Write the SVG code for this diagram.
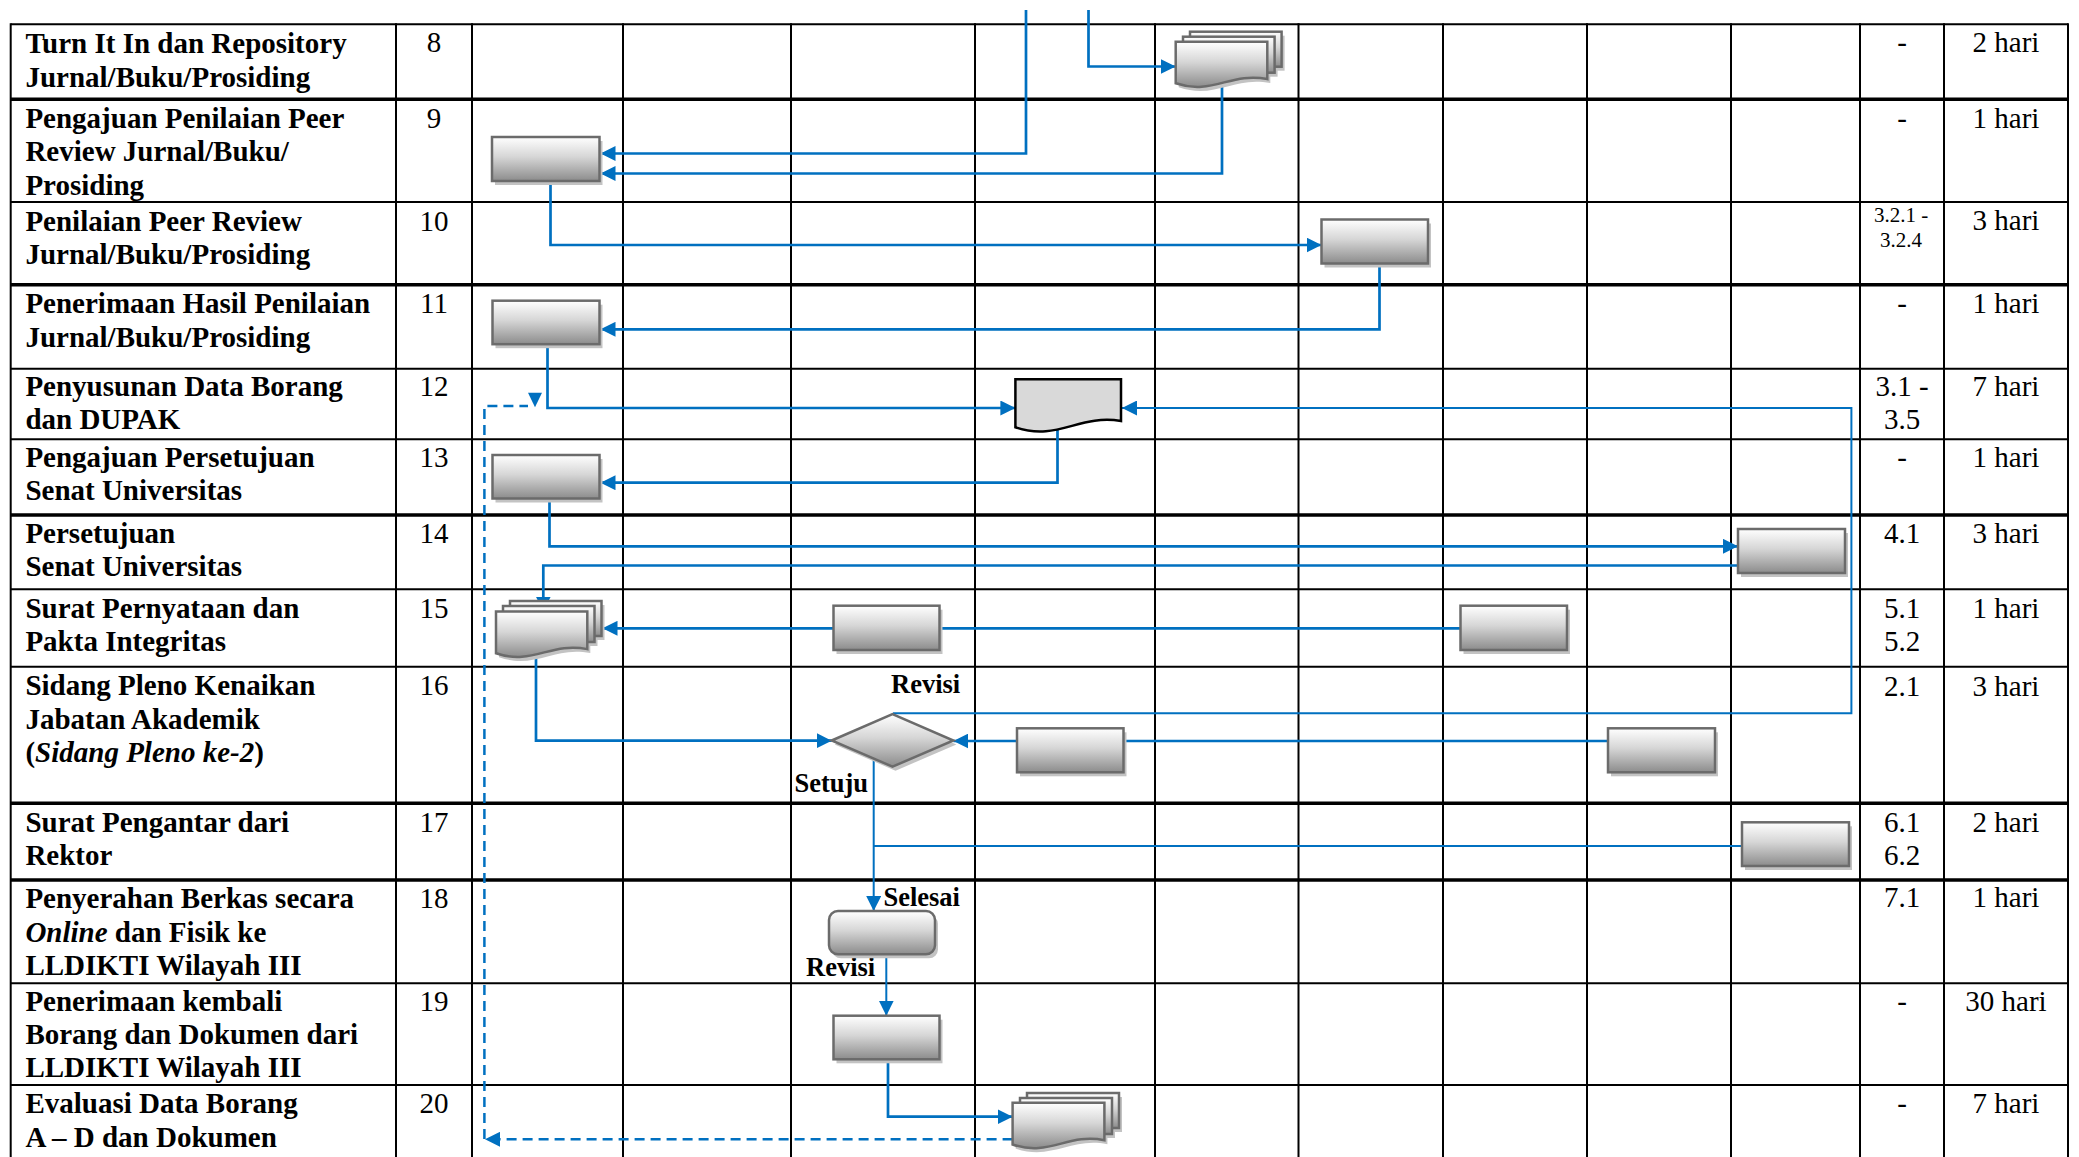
<svg xmlns="http://www.w3.org/2000/svg" width="2079" height="1157" viewBox="0 0 2079 1157">
<style>
.bg{fill:#ffffff}
.tl{stroke:#000;stroke-width:2;fill:none}
.tk{stroke:#000;stroke-width:3.5;fill:none}
.lb{font-family:"Liberation Serif","Times New Roman",serif;font-weight:bold;font-size:29px;fill:#000}
.nm{font-family:"Liberation Serif","Times New Roman",serif;font-size:29px;fill:#000;text-anchor:middle}
.sm{font-family:"Liberation Serif","Times New Roman",serif;font-size:21px;fill:#000;text-anchor:middle}
.cl{font-family:"Liberation Serif","Times New Roman",serif;font-weight:bold;font-size:26.5px;fill:#000}
.c{stroke:#0070c0;stroke-width:2.7;fill:none}
.ct{stroke:#0070c0;stroke-width:2;fill:none}
.cd{stroke:#0070c0;stroke-width:2.5;fill:none;stroke-dasharray:10 6}
.ar{marker-end:url(#arr)}
.nd{fill:url(#g);stroke:#6b6b6b;stroke-width:2.5}
.sh{fill:#c3c3c3}
.dc{fill:#d9d9d9;stroke:#000;stroke-width:2.5}
</style>
<defs>
<linearGradient id="g" x1="0" y1="0" x2="0" y2="1">
<stop offset="0" stop-color="#ffffff"/>
<stop offset="0.45" stop-color="#d6d6d6"/>
<stop offset="1" stop-color="#8c8c8c"/>
</linearGradient>
<marker id="arr" markerUnits="userSpaceOnUse" markerWidth="15" markerHeight="15" refX="15" refY="7.5" orient="auto">
<path d="M0,0 L15,7.5 L0,15 Z" fill="#0070c0"/>
</marker>
</defs>
<rect class="bg" x="0" y="0" width="2079" height="1157"/>

<g id="table">
<line class="tl" x1="10.7" y1="24.3" x2="2068" y2="24.3"/>
<line class="tk" x1="10.7" y1="99.3" x2="2068" y2="99.3"/>
<line class="tl" x1="10.7" y1="202" x2="2068" y2="202"/>
<line class="tk" x1="10.7" y1="284.7" x2="2068" y2="284.7"/>
<line class="tl" x1="10.7" y1="368.7" x2="2068" y2="368.7"/>
<line class="tl" x1="10.7" y1="439.3" x2="2068" y2="439.3"/>
<line class="tk" x1="10.7" y1="515" x2="2068" y2="515"/>
<line class="tl" x1="10.7" y1="589.3" x2="2068" y2="589.3"/>
<line class="tl" x1="10.7" y1="666.7" x2="2068" y2="666.7"/>
<line class="tk" x1="10.7" y1="803.3" x2="2068" y2="803.3"/>
<line class="tk" x1="10.7" y1="880" x2="2068" y2="880"/>
<line class="tl" x1="10.7" y1="983.3" x2="2068" y2="983.3"/>
<line class="tl" x1="10.7" y1="1085" x2="2068" y2="1085"/>
<line class="tl" x1="10.7" y1="23.3" x2="10.7" y2="1157"/>
<line class="tl" x1="396" y1="23.3" x2="396" y2="1157"/>
<line class="tl" x1="472" y1="23.3" x2="472" y2="1157"/>
<line class="tl" x1="623" y1="23.3" x2="623" y2="1157"/>
<line class="tl" x1="791" y1="23.3" x2="791" y2="1157"/>
<line class="tl" x1="975" y1="23.3" x2="975" y2="1157"/>
<line class="tl" x1="1155" y1="23.3" x2="1155" y2="1157"/>
<line class="tl" x1="1298.5" y1="23.3" x2="1298.5" y2="1157"/>
<line class="tl" x1="1443" y1="23.3" x2="1443" y2="1157"/>
<line class="tl" x1="1587" y1="23.3" x2="1587" y2="1157"/>
<line class="tl" x1="1731" y1="23.3" x2="1731" y2="1157"/>
<line class="tl" x1="1860" y1="23.3" x2="1860" y2="1157"/>
<line class="tl" x1="1944" y1="23.3" x2="1944" y2="1157"/>
<line class="tl" x1="2068" y1="23.3" x2="2068" y2="1157"/>
</g>

<g id="row-labels">
<text class="lb" x="25.4" y="53.3">Turn It In dan Repository</text>
<text class="lb" x="25.4" y="86.5">Jurnal/Buku/Prosiding</text>
<text class="lb" x="25.4" y="128">Pengajuan Penilaian Peer</text>
<text class="lb" x="25.4" y="161.3">Review Jurnal/Buku/</text>
<text class="lb" x="25.4" y="194.5">Prosiding</text>
<text class="lb" x="25.4" y="230.5">Penilaian Peer Review</text>
<text class="lb" x="25.4" y="263.8">Jurnal/Buku/Prosiding</text>
<text class="lb" x="25.4" y="313.3">Penerimaan Hasil Penilaian</text>
<text class="lb" x="25.4" y="346.6">Jurnal/Buku/Prosiding</text>
<text class="lb" x="25.4" y="396">Penyusunan Data Borang</text>
<text class="lb" x="25.4" y="429.3">dan DUPAK</text>
<text class="lb" x="25.4" y="467">Pengajuan Persetujuan</text>
<text class="lb" x="25.4" y="500.3">Senat Universitas</text>
<text class="lb" x="25.4" y="542.5">Persetujuan</text>
<text class="lb" x="25.4" y="575.8">Senat Universitas</text>
<text class="lb" x="25.4" y="617.5">Surat Pernyataan dan</text>
<text class="lb" x="25.4" y="650.8">Pakta Integritas</text>
<text class="lb" x="25.4" y="695.3">Sidang Pleno Kenaikan</text>
<text class="lb" x="25.4" y="728.6">Jabatan Akademik</text>
<text class="lb" x="25.4" y="762">(<tspan font-style="italic">Sidang Pleno ke-2</tspan>)</text>
<text class="lb" x="25.4" y="831.7">Surat Pengantar dari</text>
<text class="lb" x="25.4" y="865">Rektor</text>
<text class="lb" x="25.4" y="908.3">Penyerahan Berkas secara</text>
<text class="lb" x="25.4" y="941.6"><tspan font-style="italic">Online</tspan> dan Fisik ke</text>
<text class="lb" x="25.4" y="975">LLDIKTI Wilayah III</text>
<text class="lb" x="25.4" y="1010.7">Penerimaan kembali</text>
<text class="lb" x="25.4" y="1044">Borang dan Dokumen dari</text>
<text class="lb" x="25.4" y="1077.3">LLDIKTI Wilayah III</text>
<text class="lb" x="25.4" y="1113.3">Evaluasi Data Borang</text>
<text class="lb" x="25.4" y="1146.6">A – D dan Dokumen</text>
</g>

<g id="numbers">
<text class="nm" x="434" y="52">8</text>
<text class="nm" x="434" y="128">9</text>
<text class="nm" x="434" y="230.5">10</text>
<text class="nm" x="434" y="313.3">11</text>
<text class="nm" x="434" y="396">12</text>
<text class="nm" x="434" y="467">13</text>
<text class="nm" x="434" y="542.5">14</text>
<text class="nm" x="434" y="617.5">15</text>
<text class="nm" x="434" y="695.3">16</text>
<text class="nm" x="434" y="831.7">17</text>
<text class="nm" x="434" y="908.3">18</text>
<text class="nm" x="434" y="1010.7">19</text>
<text class="nm" x="434" y="1113.3">20</text>
</g>

<g id="refs">
<text class="nm" x="1902" y="52">-</text>
<text class="nm" x="1902" y="128">-</text>
<text class="sm" x="1901" y="221.7">3.2.1 -</text>
<text class="sm" x="1901" y="246.7">3.2.4</text>
<text class="nm" x="1902" y="313.3">-</text>
<text class="nm" x="1902" y="396">3.1 -</text>
<text class="nm" x="1902" y="428.5">3.5</text>
<text class="nm" x="1902" y="467">-</text>
<text class="nm" x="1902" y="542.5">4.1</text>
<text class="nm" x="1902" y="618">5.1</text>
<text class="nm" x="1902" y="650.7">5.2</text>
<text class="nm" x="1902" y="695.5">2.1</text>
<text class="nm" x="1902" y="831.7">6.1</text>
<text class="nm" x="1902" y="865">6.2</text>
<text class="nm" x="1902" y="906.7">7.1</text>
<text class="nm" x="1902" y="1010.7">-</text>
<text class="nm" x="1902" y="1113.3">-</text>
</g>

<g id="durations">
<text class="nm" x="2006" y="52">2 hari</text>
<text class="nm" x="2006" y="128">1 hari</text>
<text class="nm" x="2006" y="230">3 hari</text>
<text class="nm" x="2006" y="313.3">1 hari</text>
<text class="nm" x="2006" y="396">7 hari</text>
<text class="nm" x="2006" y="467">1 hari</text>
<text class="nm" x="2006" y="542.5">3 hari</text>
<text class="nm" x="2006" y="618">1 hari</text>
<text class="nm" x="2006" y="695.5">3 hari</text>
<text class="nm" x="2006" y="831.7">2 hari</text>
<text class="nm" x="2006" y="906.7">1 hari</text>
<text class="nm" x="2006" y="1010.7">30 hari</text>
<text class="nm" x="2006" y="1113.3">7 hari</text>
</g>

<g id="connectors">
<path class="c ar" d="M1026,10 V153.5 H600.5"/>
<path class="c ar" d="M1088.5,10 V66.5 H1175.7"/>
<path class="c ar" d="M1222,84 V173.5 H600.5"/>
<path class="c ar" d="M550.5,181 V245 H1321.5"/>
<path class="c ar" d="M1379.5,263.5 V329.3 H600.5"/>
<path class="c ar" d="M547.5,344 V408 H1015.4"/>
<path class="ct ar" d="M893,713.3 H1851.4 V408 H1122"/>
<path class="c ar" d="M1057.5,428 V482.7 H600.5"/>
<path class="c ar" d="M549.5,498.5 V546.3 H1738"/>
<path class="c ar" d="M1738,565.5 H543.3 V611.5"/>
<path class="c" d="M1460.5,628.3 H939.5"/>
<path class="c ar" d="M833.5,628.3 H602.5"/>
<path class="c ar" d="M536,658 V740.7 H831.7"/>
<path class="c" d="M1608,741 H1123.5"/>
<path class="c ar" d="M1017,741 H953.4"/>
<path class="ct ar" d="M873.7,758 V911"/>
<path class="ct" d="M1742,846 H873.7"/>
<path class="ct ar" d="M886.3,954 V1015.7"/>
<path class="c ar" d="M888,1059.3 V1116.7 H1012.6"/>
<path class="cd ar" d="M1012.6,1139.3 H485"/>
<path class="cd" d="M484.4,1139 V406 H528"/>
<polygon points="528,392.7 542,392.7 535,407.3" fill="#0070c0"/>
</g>

<g id="labels">
<text class="cl" x="891" y="692.7">Revisi</text>
<text class="cl" x="794.4" y="791.7">Setuju</text>
<text class="cl" x="883.4" y="906">Selesai</text>
<text class="cl" x="806" y="976">Revisi</text>
</g>

<g id="n8-doc-stack">
<rect class="sh" x="1193" y="35.7" width="91.6" height="35"/>
<rect class="sh" x="1186" y="40.7" width="91.6" height="36"/>
<path class="sh" transform="translate(3,4)" d="M1175.7,41.7 H1267.3 V79.1 C1230.7,71.7 1212.3,95.8 1175.7,83.3 Z"/>
<rect class="nd" x="1190" y="31.7" width="91.6" height="35"/>
<rect class="nd" x="1183" y="36.7" width="91.6" height="36"/>
<path class="nd" d="M1175.7,41.7 H1267.3 V79.1 C1230.7,71.7 1212.3,95.8 1175.7,83.3 Z"/>
</g>

<g id="n9-rect">
<rect class="sh" x="495" y="141" width="107.5" height="44"/>
<rect class="nd" x="492" y="137" width="107.5" height="44"/>
</g>

<g id="n10-rect">
<rect class="sh" x="1324.5" y="223.5" width="106.5" height="44"/>
<rect class="nd" x="1321.5" y="219.5" width="106.5" height="44"/>
</g>

<g id="n11-rect">
<rect class="sh" x="495.5" y="304.7" width="107" height="43.5"/>
<rect class="nd" x="492.5" y="300.7" width="107" height="43.5"/>
</g>

<g id="n12-document">
<path class="dc" d="M1015.4,379.3 H1121 V421 C1078.6,413.9 1057.6,441.7 1015.4,427.3 Z"/>
</g>

<g id="n13-rect">
<rect class="sh" x="495.5" y="459" width="107" height="43.5"/>
<rect class="nd" x="492.5" y="455" width="107" height="43.5"/>
</g>

<g id="n14-rect">
<rect class="sh" x="1741" y="533" width="107" height="44"/>
<rect class="nd" x="1738" y="529" width="107" height="44"/>
</g>

<g id="n15-doc-stack">
<rect class="sh" x="513" y="605" width="91.5" height="35"/>
<rect class="sh" x="506" y="610" width="91.5" height="36"/>
<path class="sh" transform="translate(3,4)" d="M496,611.5 H587.3 V649.1 C550.8,641.6 532.5,665.8 496,653.3 Z"/>
<rect class="nd" x="510" y="601" width="91.5" height="35"/>
<rect class="nd" x="503" y="606" width="91.5" height="36"/>
<path class="nd" d="M496,611.5 H587.3 V649.1 C550.8,641.6 532.5,665.8 496,653.3 Z"/>
</g>

<g id="n15a-rect">
<rect class="sh" x="836.5" y="609.7" width="106" height="44.3"/>
<rect class="nd" x="833.5" y="605.7" width="106" height="44.3"/>
</g>

<g id="n15b-rect">
<rect class="sh" x="1463.5" y="609.7" width="106.5" height="44.3"/>
<rect class="nd" x="1460.5" y="605.7" width="106.5" height="44.3"/>
</g>

<g id="n16-decision">
<polygon class="sh" points="834.7,744.5 895.5,718 956.4,744.5 895.5,770.7"/>
<polygon class="nd" points="831.7,740.5 892.5,714 953.4,740.5 892.5,766.7"/>
</g>

<g id="n16a-rect">
<rect class="sh" x="1020" y="732.3" width="106.5" height="44"/>
<rect class="nd" x="1017" y="728.3" width="106.5" height="44"/>
</g>

<g id="n16b-rect">
<rect class="sh" x="1611" y="732.3" width="107" height="44"/>
<rect class="nd" x="1608" y="728.3" width="107" height="44"/>
</g>

<g id="n17-rect">
<rect class="sh" x="1745" y="826.3" width="107" height="43.7"/>
<rect class="nd" x="1742" y="822.3" width="107" height="43.7"/>
</g>

<g id="n18-terminal">
<rect class="sh" x="832" y="915" width="106" height="43.3" rx="9"/>
<rect class="nd" x="829" y="911" width="106" height="43.3" rx="9"/>
</g>

<g id="n19-rect">
<rect class="sh" x="836.5" y="1019.7" width="106" height="43.6"/>
<rect class="nd" x="833.5" y="1015.7" width="106" height="43.6"/>
</g>

<g id="n20-doc-stack">
<rect class="sh" x="1030" y="1097" width="92" height="35"/>
<rect class="sh" x="1023" y="1102" width="92" height="36"/>
<path class="sh" transform="translate(3,4)" d="M1012.6,1102.7 H1104.4 V1140.3 C1067.7,1132.8 1049.3,1157 1012.6,1144.5 Z"/>
<rect class="nd" x="1027" y="1093" width="92" height="35"/>
<rect class="nd" x="1020" y="1098" width="92" height="36"/>
<path class="nd" d="M1012.6,1102.7 H1104.4 V1140.3 C1067.7,1132.8 1049.3,1157 1012.6,1144.5 Z"/>
</g>
</svg>
